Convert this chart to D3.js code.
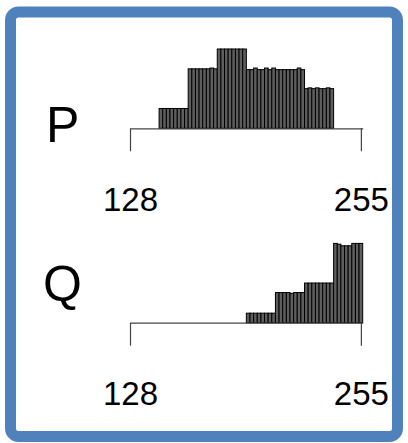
<!DOCTYPE html>
<html>
<head>
<meta charset="utf-8">
<script src="https://cdn.jsdelivr.net/npm/d3@7"></script>
<style>
  html, body { margin: 0; padding: 0; background: #fff; }
  svg { display: block; }
  text { font-family: "Liberation Sans", Arial, Helvetica, sans-serif; }
</style>
</head>
<body>
<svg id="chart" width="408" height="443"></svg>
<script>
// Histogram bins: 2-unit wide, starting at 128
const binStart = 128;
const binWidth = 2;
const tickValues = [128, 255];
const panelNames = ["P", "Q"];

// Relative counts per bin (128..254), max = 100
const seriesP = [
  0, 0, 0, 0, 0, 0, 0, 0,
  25, 25, 25, 25, 25, 25, 25, 25,
  75, 75, 75, 75, 75, 75, 76, 75,
  100, 100, 100, 100, 100, 100, 100, 100,
  74, 74, 76, 74, 74, 76, 74, 76, 74, 74, 74, 74, 74, 74, 76, 74,
  50, 51, 50, 51, 50, 50, 51, 50,
  0, 0, 0, 0, 0, 0, 0, 0
];
const seriesQ = [
  0, 0, 0, 0, 0, 0, 0, 0,
  0, 0, 0, 0, 0, 0, 0, 0,
  0, 0, 0, 0, 0, 0, 0, 0,
  0, 0, 0, 0, 0, 0, 0, 0,
  12, 12, 12, 12, 12, 12, 12, 12,
  38, 38, 38, 38, 37, 38, 38, 38,
  50, 50, 50, 50, 50, 50, 50, 50,
  100, 99, 97, 97, 97, 100, 100, 100
];

const svg = d3.select("#chart");

// Frame
svg.append("rect")
  .attr("x", 10.5).attr("y", 12)
  .attr("width", 387).attr("height", 424.5)
  .attr("rx", 8).attr("ry", 8)
  .attr("fill", "#fff")
  .attr("stroke", "#4F81BD")
  .attr("stroke-width", 11);

const x = d3.scaleLinear().domain([128, 256]).range([130, 362.7]);

const panels = [
  { name: panelNames[0], values: seriesP, base: 128.3, labelX: 46, labelY: 141.7 },
  { name: panelNames[1], values: seriesQ, base: 322.7, labelX: 43, labelY: 301 }
];

panels.forEach(p => {
  const y = d3.scaleLinear().domain([0, 100]).range([p.base, p.base - 79.3]);
  const bins = p.values.map((v, i) => ({ x0: binStart + i * binWidth, x1: binStart + (i + 1) * binWidth, v }));

  svg.append("g")
    .selectAll("rect")
    .data(bins.filter(d => d.v > 0))
    .join("rect")
    .attr("x", d => x(d.x0))
    .attr("width", d => x(d.x1) - x(d.x0))
    .attr("y", d => y(d.v))
    .attr("height", d => y(0) - y(d.v))
    .attr("fill", "#5e5e5e")
    .attr("stroke", "#000")
    .attr("stroke-width", 1);

  const axis = d3.axisBottom(x)
    .tickValues(tickValues)
    .tickSize(23)
    .tickSizeOuter(0)
    .tickPadding(36)
    .tickFormat(d3.format("d"));

  const g = svg.append("g")
    .attr("transform", `translate(0,${p.base})`)
    .call(axis);
  g.select(".domain").attr("stroke", "#444").attr("stroke-width", 1.2);
  g.selectAll(".tick line").attr("stroke", "#444").attr("stroke-width", 1.2);
  g.selectAll(".tick text")
    .attr("fill", "#000")
    .style("font-size", "33px")
    .style("font-family", "'Liberation Sans', Arial, Helvetica, sans-serif");

  svg.append("text")
    .attr("x", p.labelX)
    .attr("y", p.labelY)
    .attr("font-size", 50)
    .attr("fill", "#000")
    .text(p.name);
});
</script>
</body>
</html>
